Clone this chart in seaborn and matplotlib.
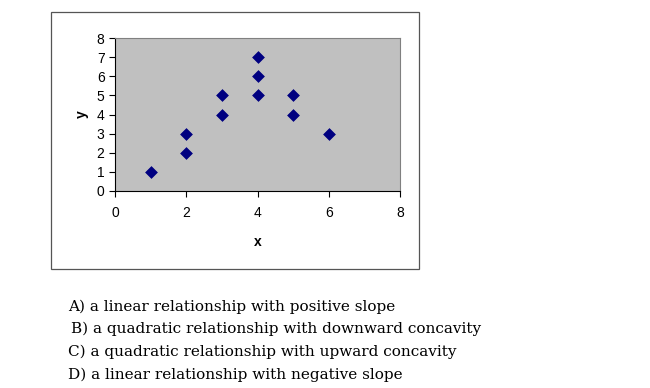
import matplotlib
matplotlib.use("Agg")
import matplotlib.pyplot as plt
from matplotlib.patches import Rectangle
import seaborn as sns
import pandas as pd

x_vals = [1, 2, 2, 3, 3, 4, 4, 4, 5, 5, 6]
y_vals = [1, 2, 3, 4, 5, 5, 6, 7, 4, 5, 3]
x_ticks = [0, 2, 4, 6, 8]
y_ticks = [0, 1, 2, 3, 4, 5, 6, 7, 8]
options = [
    "A) a linear relationship with positive slope",
    "B) a quadratic relationship with downward concavity",
    "C) a quadratic relationship with upward concavity",
    "D) a linear relationship with negative slope",
]

sns.set_style("white")
plt.rcParams['font.family'] = ['Liberation Sans', 'DejaVu Sans']
plt.rcParams['text.color'] = 'black'
plt.rcParams['axes.labelcolor'] = 'black'
plt.rcParams['xtick.color'] = 'black'
plt.rcParams['ytick.color'] = 'black'

W, H = 650, 388
fig = plt.figure(figsize=(W / 100, H / 100), dpi=100)

# outer chart frame
fig.patches.append(Rectangle((51 / W, 1 - 269 / H), (419 - 51) / W, (269 - 12) / H,
                             transform=fig.transFigure, fill=False,
                             edgecolor="#555555", linewidth=0.9))

ax = fig.add_axes([115 / W, 1 - 191 / H, (400 - 115) / W, (191 - 38) / H])
df = pd.DataFrame({"x": x_vals, "y": y_vals})
sns.scatterplot(data=df, x="x", y="y", ax=ax, marker="D", s=36,
                color="#000080", edgecolor="#000080", linewidth=0.5, zorder=3)
ax.set_facecolor("#C0C0C0")
ax.set_xlim(0, 8)
ax.set_ylim(0, 8)
ax.set_xticks(x_ticks)
ax.set_yticks(y_ticks)
ax.tick_params(axis="both", labelsize=10, length=4.5, width=0.8, color="black",
               labelcolor="black", direction="out", pad=3)
ax.tick_params(axis="x", pad=6)
ax.tick_params(bottom=True, left=True)
for lbl in ax.get_xticklabels() + ax.get_yticklabels():
    lbl.set_family(["Liberation Sans", "DejaVu Sans"])
for side in ["top", "right"]:
    ax.spines[side].set_color("#808080")
    ax.spines[side].set_linewidth(0.8)
for side in ["left", "bottom"]:
    ax.spines[side].set_color("black")
    ax.spines[side].set_linewidth(0.8)
ax.set_xlabel("x", fontsize=10, fontweight="bold", labelpad=11, color="black",
              family=["Liberation Sans", "DejaVu Sans"])
ax.set_ylabel("y", fontsize=10, fontweight="bold", labelpad=6, color="black",
              family=["Liberation Sans", "DejaVu Sans"])

ypos = [307, 329, 352, 375]
xpos = [68, 71, 68, 68]
for t, xp, yp in zip(options, xpos, ypos):
    fig.text(xp / W, 1 - yp / H, t, fontsize=11, va="center", ha="left",
             color="black", family=["DejaVu Serif"])

fig.savefig("out.png", dpi=100)
